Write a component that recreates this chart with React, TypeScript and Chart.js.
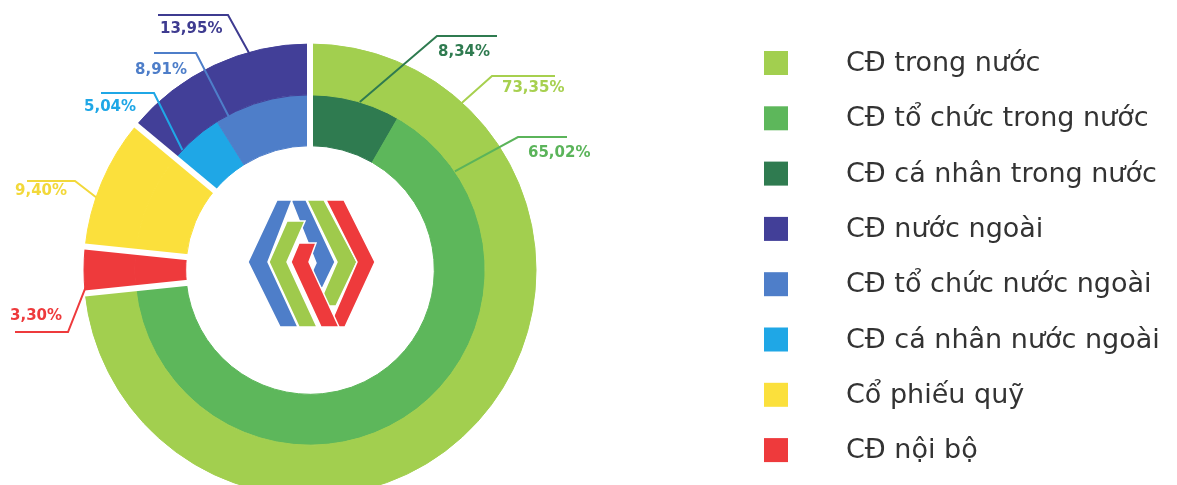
import React, { useEffect, useRef } from 'react';
import { Chart, registerables } from 'chart.js';

Chart.register(...registerables);

// ---- Data ----
const outerLabels = ['CĐ trong nước', 'CĐ nội bộ', 'Cổ phiếu quỹ', 'CĐ nước ngoài'];
const outerValues = [73.35, 3.3, 9.4, 13.95];

const innerLabels = [
  'CĐ cá nhân trong nước',
  'CĐ tổ chức trong nước',
  'CĐ nội bộ',
  'Cổ phiếu quỹ',
  'CĐ cá nhân nước ngoài',
  'CĐ tổ chức nước ngoài',
];
const innerValues = [8.34, 65.02, 3.3, 9.4, 5.04, 8.91];

const legendLabels = [
  'CĐ trong nước',
  'CĐ tổ chức trong nước',
  'CĐ cá nhân trong nước',
  'CĐ nước ngoài',
  'CĐ tổ chức nước ngoài',
  'CĐ cá nhân nước ngoài',
  'Cổ phiếu quỹ',
  'CĐ nội bộ',
];

const COLORS: Record<string, string> = {
  'CĐ trong nước': '#a2cf4f',
  'CĐ tổ chức trong nước': '#5db75b',
  'CĐ cá nhân trong nước': '#2f7b50',
  'CĐ nước ngoài': '#423f98',
  'CĐ tổ chức nước ngoài': '#4e7ec9',
  'CĐ cá nhân nước ngoài': '#1fa7e6',
  'Cổ phiếu quỹ': '#fbe03c',
  'CĐ nội bộ': '#ee3a3c',
};

const TEXT_COLORS: Record<string, string> = {
  'CĐ trong nước': '#a7d04f',
  'CĐ tổ chức trong nước': '#5bb45a',
  'CĐ cá nhân trong nước': '#2f7b50',
  'CĐ nước ngoài': '#3e3b90',
  'CĐ tổ chức nước ngoài': '#4e7ec9',
  'CĐ cá nhân nước ngoài': '#1fa7e6',
  'Cổ phiếu quỹ': '#f2d83a',
  'CĐ nội bộ': '#ee3a3c',
};

// ---- Callout layout (relative to the chart centre) ----
// ds: dataset index (0 = outer ring, 1 = inner ring); idx: data index
// t: fraction along the arc; rf: radial fraction inside the ring
const callouts = [
  { ds: 0, idx: 3, t: 0.69, rf: 0.95, elbow: [-82, -255], endX: -152, text: [-150, -241] },
  { ds: 1, idx: 5, t: 0.13, rf: 0.95, elbow: [-114, -217], endX: -156, text: [-175, -200] },
  { ds: 1, idx: 4, t: 0.19, rf: 1.0, elbow: [-156, -177], endX: -209, text: [-226, -163] },
  { ds: 0, idx: 2, t: 0.38, rf: 1.0, elbow: [-235, -89], endX: -283, text: [-295, -79] },
  { ds: 0, idx: 1, t: 0.2, rf: 0.95, elbow: [-242, 62], endX: -295, text: [-300, 46] },
  { ds: 1, idx: 0, t: 0.55, rf: 1.0, elbow: [127, -234], endX: 187, text: [128, -218] },
  { ds: 0, idx: 0, t: 0.16, rf: 1.0, elbow: [182, -194], endX: 245, text: [192, -182] },
  { ds: 1, idx: 1, t: 0.11, rf: 1.0, elbow: [208, -133], endX: 257, text: [218, -117] },
];

// ---- Centre logo (local coords, origin offset from centre) ----
const LOGO_ORIGIN = [-60, -70];
const logoShapes: { color: string; pts: number[][] }[] = [
  { color: '#4e7ec9', pts: [[41, 0], [56, 0], [85, 62], [72, 89], [61, 74], [66, 63]] },
  { color: '#9fca4c', pts: [[57, 0], [74, 0], [107, 62], [86, 106], [68, 106], [87, 62]] },
  { color: '#ee3a3c', pts: [[76, 0], [94, 0], [125, 62], [95, 127], [79, 127], [107, 62]] },
  { color: '#9fca4c', pts: [[37, 21], [55, 21], [37, 62], [67, 127], [49, 127], [19, 62]] },
  { color: '#ee3a3c', pts: [[49, 43], [66, 43], [59, 62], [89, 127], [71, 127], [41, 62]] },
  { color: '#4e7ec9', pts: [[27, 0], [42, 0], [18, 62], [48, 127], [30, 127], [-2, 62]] },
];

const LEGEND = { boxX: 756, textX: 838, firstY: 55, step: 55.3, box: 24 };

const fmt = (v: number) => v.toFixed(2).replace('.', ',') + '%';

const decorPlugin = {
  id: 'decor',
  afterDatasetsDraw(chart: any) {
    const ctx: CanvasRenderingContext2D = chart.ctx;
    const outerMeta = chart.getDatasetMeta(0);
    const innerMeta = chart.getDatasetMeta(1);
    const o0 = outerMeta.data[0];
    const cx = o0.x;
    const cy = o0.y;
    const rOut = o0.outerRadius;
    const rIn = innerMeta.data[0].innerRadius;

    ctx.save();
    // white gaps between the main groups
    ctx.strokeStyle = '#ffffff';
    ctx.lineWidth = 6;
    ctx.lineCap = 'butt';
    outerMeta.data.forEach((arc: any) => {
      const a = arc.startAngle;
      ctx.beginPath();
      ctx.moveTo(cx + Math.cos(a) * (rIn - 2), cy + Math.sin(a) * (rIn - 2));
      ctx.lineTo(cx + Math.cos(a) * (rOut + 3), cy + Math.sin(a) * (rOut + 3));
      ctx.stroke();
    });

    // logo
    logoShapes.forEach((s) => {
      ctx.beginPath();
      s.pts.forEach((p, i) => {
        const x = cx + LOGO_ORIGIN[0] + p[0];
        const y = cy + LOGO_ORIGIN[1] + p[1];
        if (i === 0) ctx.moveTo(x, y);
        else ctx.lineTo(x, y);
      });
      ctx.closePath();
      ctx.fillStyle = s.color;
      ctx.fill();
      ctx.strokeStyle = '#ffffff';
      ctx.lineWidth = 1.5;
      ctx.lineJoin = 'miter';
      ctx.stroke();
    });

    // callouts
    callouts.forEach((c) => {
      const meta = chart.getDatasetMeta(c.ds);
      const arc = meta.data[c.idx];
      const labels = c.ds === 0 ? outerLabels : innerLabels;
      const values = c.ds === 0 ? outerValues : innerValues;
      const name = labels[c.idx];
      const a = arc.startAngle + c.t * (arc.endAngle - arc.startAngle);
      const r = arc.innerRadius + c.rf * (arc.outerRadius - arc.innerRadius);
      const ax = cx + Math.cos(a) * r;
      const ay = cy + Math.sin(a) * r;
      const ex = cx + c.elbow[0];
      const ey = cy + c.elbow[1];
      const color = TEXT_COLORS[name];
      ctx.strokeStyle = color;
      ctx.lineWidth = 2;
      ctx.lineJoin = 'miter';
      ctx.beginPath();
      ctx.moveTo(ax, ay);
      ctx.lineTo(ex, ey);
      ctx.lineTo(cx + c.endX, ey);
      ctx.stroke();
      ctx.fillStyle = color;
      ctx.font = 'bold 15px "DejaVu Sans"';
      ctx.textAlign = 'left';
      ctx.textBaseline = 'middle';
      ctx.fillText(fmt(values[c.idx]), cx + c.text[0], cy + c.text[1]);
    });

    // legend
    legendLabels.forEach((lab, i) => {
      const y = LEGEND.firstY + i * LEGEND.step;
      ctx.fillStyle = COLORS[lab];
      ctx.fillRect(LEGEND.boxX, y - LEGEND.box / 2, LEGEND.box, LEGEND.box);
      ctx.fillStyle = '#333333';
      ctx.font = '27px "DejaVu Sans"';
      ctx.textAlign = 'left';
      ctx.textBaseline = 'middle';
      ctx.fillText(lab, LEGEND.textX, y + 1);
    });
    ctx.restore();
  },
};

export default function App() {
  const ref = useRef<HTMLCanvasElement | null>(null);

  useEffect(() => {
    if (!ref.current) return;
    const outerColors = outerLabels.map((l) => COLORS[l]);
    const innerColors = innerLabels.map((l) => COLORS[l]);
    const chart = new Chart(ref.current, {
      type: 'doughnut',
      data: {
        labels: innerLabels,
        datasets: [
          {
            label: 'Cơ cấu cổ đông',
            data: outerValues,
            backgroundColor: outerColors,
            borderColor: outerColors,
            borderWidth: 1,
          },
          {
            label: 'Chi tiết',
            data: innerValues,
            backgroundColor: innerColors,
            borderColor: innerColors,
            borderWidth: 1,
          },
        ],
      },
      options: {
        responsive: false,
        animation: false,
        cutout: '55%',
        radius: 226,
        layout: { padding: { left: 75, top: 35, right: 632, bottom: 31 } },
        plugins: {
          legend: { display: false },
          tooltip: { enabled: false },
          title: { display: false },
        },
      } as any,
      plugins: [decorPlugin],
    });
    return () => chart.destroy();
  }, []);

  return (
    <div
      style={{
        position: 'fixed',
        left: 8,
        top: 8,
        width: 1161,
        height: 477,
        overflow: 'hidden',
      }}
    >
      <canvas ref={ref} width={1161} height={520} style={{ display: 'block' }} />
    </div>
  );
}
